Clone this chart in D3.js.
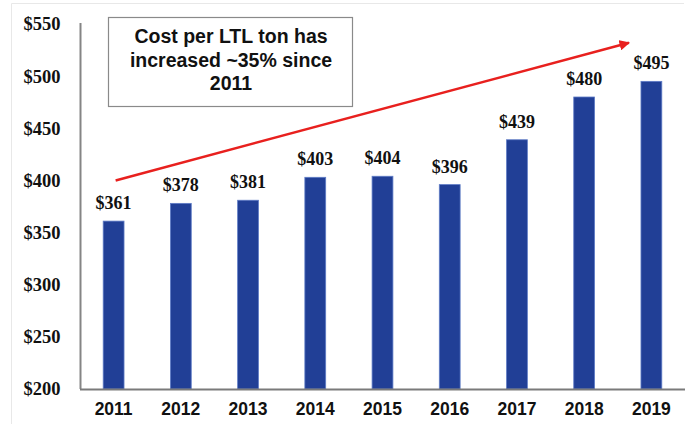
<!DOCTYPE html>
<html>
<head>
<meta charset="utf-8">
<script src="https://cdn.jsdelivr.net/npm/d3@7"></script>
<style>
  html, body { margin: 0; padding: 0; background: #fff; }
  svg { display: block; }
</style>
</head>
<body>
<svg id="chart" width="686" height="427"></svg>
<script>
// Cost per LTL ton, by year
const years = ["2011", "2012", "2013", "2014", "2015", "2016", "2017", "2018", "2019"];
const costs = [361, 378, 381, 403, 404, 396, 439, 480, 495];
const yTicks = [200, 250, 300, 350, 400, 450, 500, 550];
const calloutLines = ["Cost per LTL ton has", "increased ~35% since", "2011"];
const trendFrom = { year: "2011", value: 400 };
const trendTo = { year: "2019", value: 532 };

const svg = d3.select("#chart");

// faint outer frame
svg.append("path")
  .attr("d", "M11.5,424V3.5H684")
  .attr("fill", "none")
  .attr("stroke", "#e8e8e8")
  .attr("stroke-width", 1);

const x = d3.scaleBand()
  .domain(years)
  .range([80, 685])
  .paddingInner(0.69)
  .paddingOuter(0.345);

const y = d3.scaleLinear()
  .domain([200, 550])
  .range([389, 24]);

// bars
svg.append("g")
  .selectAll("rect")
  .data(years)
  .join("rect")
  .attr("x", d => x(d))
  .attr("width", x.bandwidth())
  .attr("y", (d, i) => y(costs[i]))
  .attr("height", (d, i) => y(200) - y(costs[i]))
  .attr("fill", "#213f96")
  .attr("stroke", "#5f7cc6")
  .attr("stroke-width", 0.8);

// value labels
svg.append("g")
  .selectAll("text")
  .data(years)
  .join("text")
  .attr("x", d => x(d) + x.bandwidth() / 2)
  .attr("y", (d, i) => y(costs[i]) - 12)
  .attr("text-anchor", "middle")
  .attr("font-family", "'Liberation Serif', 'Times New Roman', serif")
  .attr("font-weight", "bold")
  .attr("font-size", 18)
  .attr("fill", "#111")
  .text((d, i) => "$" + costs[i]);

// y axis
const yAxis = svg.append("g")
  .attr("transform", "translate(80.5,0)")
  .call(d3.axisLeft(y).tickValues(yTicks).tickSize(0).tickPadding(20).tickFormat(d => "$" + d));
yAxis.select(".domain").attr("stroke", "#858585").attr("stroke-width", 2).attr("d", "M0,23V389");
yAxis.selectAll("text")
  .attr("font-family", "'Liberation Serif', 'Times New Roman', serif")
  .attr("font-weight", "bold")
  .attr("font-size", 18.5)
  .attr("fill", "#111");

// x axis
const xAxis = svg.append("g")
  .attr("transform", "translate(0,389.5)")
  .call(d3.axisBottom(x).tickSize(0).tickPadding(13));
xAxis.select(".domain").attr("stroke", "#7a7a7a").attr("stroke-width", 2).attr("d", "M80,0H685");
xAxis.selectAll("text")
  .attr("font-family", "'Liberation Sans', Arial, sans-serif")
  .attr("font-weight", "bold")
  .attr("font-size", 17.5)
  .attr("fill", "#111");

// callout box
svg.append("rect")
  .attr("x", 108.5).attr("y", 17.5)
  .attr("width", 244).attr("height", 89)
  .attr("fill", "#fff")
  .attr("stroke", "#8a8a8a")
  .attr("stroke-width", 1.2);

svg.append("g")
  .selectAll("text")
  .data(calloutLines)
  .join("text")
  .attr("x", 231)
  .attr("y", (d, i) => 43 + i * 23.5)
  .attr("text-anchor", "middle")
  .attr("font-family", "'Liberation Sans', Arial, sans-serif")
  .attr("font-weight", "bold")
  .attr("font-size", 19.5)
  .attr("fill", "#111")
  .text(d => d);

// trend arrow
svg.append("defs").append("marker")
  .attr("id", "arrowhead")
  .attr("viewBox", "0 0 10 10")
  .attr("refX", 9).attr("refY", 5)
  .attr("markerWidth", 4.2).attr("markerHeight", 4.2)
  .attr("markerUnits", "strokeWidth")
  .attr("orient", "auto")
  .append("path")
  .attr("d", "M0,0L10,5L0,10Z")
  .attr("fill", "#e8201e");

svg.append("line")
  .attr("x1", x(trendFrom.year) + x.bandwidth() / 2 + 2)
  .attr("y1", y(trendFrom.value))
  .attr("x2", x(trendTo.year) - 12)
  .attr("y2", y(trendTo.value))
  .attr("stroke", "#e8201e")
  .attr("stroke-width", 2.5)
  .attr("marker-end", "url(#arrowhead)");
</script>
</body>
</html>
